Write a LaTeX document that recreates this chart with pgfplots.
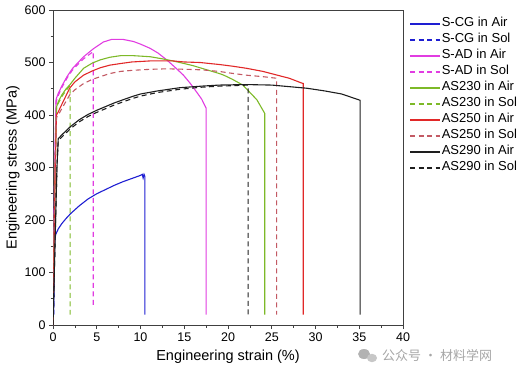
\documentclass[border=0pt]{standalone}
\usepackage{pgfplots}
\pgfplotsset{compat=1.18}
\usepackage{fontspec}
\setmainfont{Liberation Sans}
\newfontfamily\cjk{Noto Sans CJK SC}
\definecolor{cblue}{RGB}{30,30,210}
\definecolor{cmag}{RGB}{225,60,225}
\definecolor{cgreen}{RGB}{125,185,40}
\definecolor{cred}{RGB}{225,40,40}
\definecolor{cred2}{RGB}{195,90,100}
\definecolor{cblack}{RGB}{30,30,30}
\begin{document}
\begin{tikzpicture}
\useasboundingbox (0,0) rectangle (521pt,375pt);
\begin{axis}[
  at={(53pt,50pt)}, anchor=south west,
  scale only axis, width=350pt, height=315pt,
  xmin=0, xmax=40, ymin=0, ymax=600,
  xtick={0,5,...,40}, ytick={0,100,...,600},
  minor x tick num=1, minor y tick num=1,
  tick align=outside, tick pos=left,
  major tick length=4pt, minor tick length=2.5pt,
  axis line style={draw=black!75, line width=0.9pt},
  every tick/.style={black!75, line width=0.7pt},
  /pgf/number format/assume math mode=true,
  ticklabel style={font=\fontsize{12.5}{14}\selectfont},
  xlabel={Engineering strain (\%)},
  ylabel={Engineering stress (MPa)},
  label style={font=\fontsize{14.5}{16}\selectfont},
  xlabel style={yshift=-2pt},
  ylabel style={yshift=-2pt},
  legend style={draw=none, fill=none, at={(1.015,0.985)}, anchor=north west,
    font=\fontsize{13}{15}\selectfont, row sep=0pt, inner sep=1pt,
    nodes={text height=10pt, text depth=4pt, inner sep=1pt}},
  legend cell align=left,
  legend image code/.code={\draw[#1, line width=1.3pt] (0pt,0pt) -- (30pt,0pt);},
  every axis plot/.append style={line width=1.1pt},
]
\addplot[cblue] coordinates {(0,0)(0.1,40)(0.15,120)(0.2,160)(0.3,172)(0.6,183)(1,193)(1.5,203)(2,212)(3,227)(4,240)(5,250)(6,258)(7,266)(8,273)(9,279)(10,285)(10.2,287)(10.3,280)(10.4,287)(10.5,283)(10.5,20)};
\addlegendentry{S-CG in Air}
\addplot[cblue, dash pattern=on 5pt off 3.5pt] coordinates {(0.08,20)(0.12,80)(0.15,130)};
\addlegendentry{S-CG in Sol}
\addplot[cmag] coordinates {(0,0)(0.2,300)(0.35,430)(0.6,441)(1,455)(1.6,473)(2.2,488)(2.7,497)(3.5,511)(4.6,526)(5.75,539)(6.7,544)(8,544)(9.2,540)(10,535)(11.1,527)(12,518)(13,505)(14,490)(14.9,476)(15.7,460)(16.4,444)(17,430)(17.5,413)(17.5,20)};
\addlegendentry{S-AD in Air}
\addplot[cmag, dash pattern=on 5pt off 3.5pt] coordinates {(0,0)(0.2,300)(0.35,425)(0.6,437)(1,452)(1.6,470)(2.2,485)(2.7,494)(3.5,507)(4.6,521)(4.6,35)};
\addlegendentry{S-AD in Sol}
\addplot[cgreen] coordinates {(0,0)(0.25,300)(0.4,415)(0.6,425)(1,438)(1.5,450)(1.9,457)(2.5,470)(3.5,489)(4.5,499)(5.4,505)(6.5,510)(7.7,513)(9.2,513)(11.1,511)(12.5,507)(13.7,503)(15,498)(16,494)(17,489)(18,484)(19,479)(19.5,476)(20.5,468)(21.7,457)(22.5,443)(23.3,429)(24.2,403)(24.2,20)};
\addlegendentry{AS230 in Air}
\addplot[cgreen, dash pattern=on 5pt off 3.5pt] coordinates {(0,0)(0.25,300)(0.4,412)(0.6,422)(1,435)(1.5,447)(1.95,456)(1.95,20)};
\addlegendentry{AS230 in Sol}
\addplot[cred] coordinates {(0,0)(0.25,300)(0.4,400)(0.6,406)(1,420)(1.9,451)(2.5,463)(3.5,476)(4.5,484)(5.4,490)(6.5,495)(7.7,498)(9,501)(11.1,503)(13.7,503)(15,501)(16.8,500)(19.1,496)(20.5,493)(22.1,489)(24,483)(25.6,476)(27,470)(28.4,461)(28.6,460)(28.6,20)};
\addlegendentry{AS250 in Air}
\addplot[cred2, dash pattern=on 5pt off 3.5pt] coordinates {(0,0)(0.25,300)(0.4,395)(0.6,400)(1,412)(1.9,438)(2.5,448)(3.5,460)(4.5,468)(5.4,473)(6.5,479)(7.7,483)(9,485)(11.1,487)(13,488)(15.3,487)(17,486)(19,483)(20.2,480)(22,476)(24,473)(25.55,470)(25.55,20)};
\addlegendentry{AS250 in Sol}
\addplot[cblack] coordinates {(0,0)(0.45,300)(0.6,355)(1,362)(1.5,370)(2,378)(3,391)(4,401)(5,409)(6,416)(7,423)(8,429)(9.2,436)(10,440)(12,446)(14.5,452)(17,455)(19,457)(22,458)(25,457)(27,454)(29,451)(31,446)(33,440)(35.1,428)(35.1,20)};
\addlegendentry{AS290 in Air}
\addplot[cblack, dash pattern=on 5pt off 3.5pt] coordinates {(0,0)(0.45,300)(0.6,351)(1,358)(1.5,366)(2,374)(3,387)(4,397)(5,405)(6,412)(7,419)(8,425)(9.2,432)(10,436)(12,443)(14.5,449)(17,453)(19,455)(22.3,457)(22.3,20)};
\addlegendentry{AS290 in Sol}
\end{axis}
\fill[black!30] (364pt,21pt) ellipse (6pt and 5pt);
\fill[black!22] (372pt,17pt) ellipse (5pt and 4.2pt);
\node[anchor=west, inner sep=0pt, text=black!35, font=\cjk\fontsize{13}{15}\selectfont] at (382pt,20pt) {公众号 · 材料学网};
\end{tikzpicture}
\end{document}
